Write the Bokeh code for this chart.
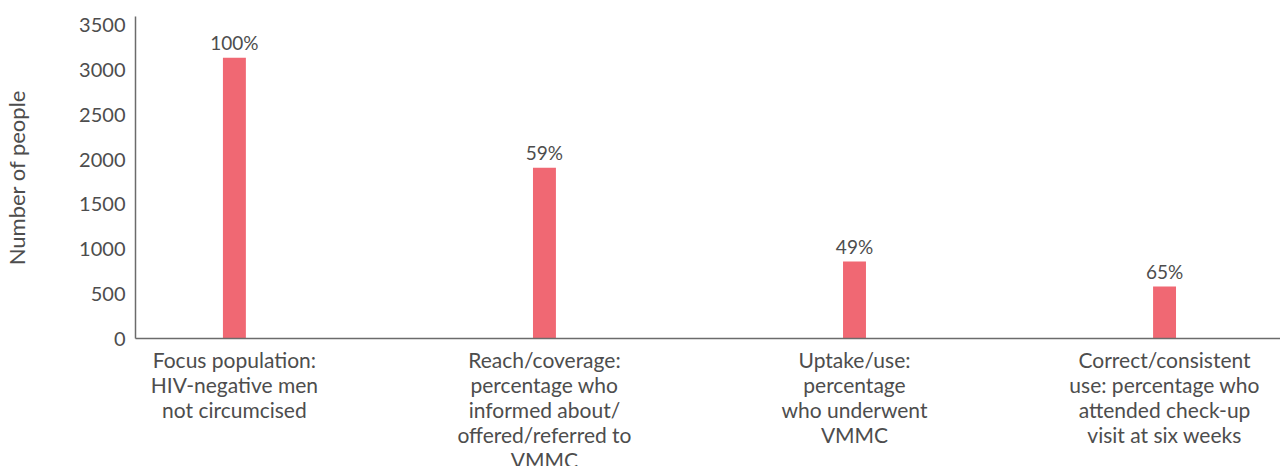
from bokeh.plotting import figure
from bokeh.models import ColumnDataSource, Range1d, FixedTicker
from bokeh.core.properties import value
from bokeh.embed import file_html
from bokeh.resources import INLINE

categories = [
    "Focus population:\nHIV-negative men\nnot circumcised",
    "Reach/coverage:\npercentage who\ninformed about/\noffered/referred to\nVMMC",
    "Uptake/use:\npercentage\nwho underwent\nVMMC",
    "Correct/consistent\nuse: percentage who\nattended check-up\nvisit at six weeks",
]
people = [3140, 1910, 860, 580]
pct_labels = ["100%", "59%", "49%", "65%"]
y_ticks = [0, 500, 1000, 1500, 2000, 2500, 3000, 3500]

FONT = "Lato"
TXT = "#4d4d4d"
AX = "#6b6b6b"

xs = list(range(len(categories)))
src = ColumnDataSource(dict(x=xs, y=people, lab=pct_labels))

p = figure(frame_width=1145, frame_height=322, output_backend="svg", toolbar_location=None,
           x_range=Range1d(-0.319, 3.374), y_range=Range1d(0, 3600),
           min_border_left=133, min_border_right=0, min_border_top=16, min_border_bottom=10)

p.vbar(x="x", top="y", width=0.074, bottom=0, source=src, color="#F06873", line_color=None)
p.text(x="x", y="y", text="lab", source=src, text_align="center", text_baseline="bottom",
       y_offset=-4, text_font=value(FONT), text_font_size="19px", text_color=TXT)

p.xgrid.visible = False
p.ygrid.visible = False
p.outline_line_color = None
p.background_fill_color = "white"
p.border_fill_color = "white"

xa = p.xaxis[0]
xa.ticker = FixedTicker(ticks=xs)
xa.major_label_overrides = {i: c for i, c in zip(xs, categories)}
xa.major_tick_in = 0
xa.major_tick_out = 0
xa.minor_tick_in = 0
xa.minor_tick_out = 0
xa.major_label_standoff = 8
xa.major_label_text_font = FONT
xa.major_label_text_font_size = "21px"
xa.major_label_text_color = TXT
xa.major_label_text_line_height = 1.0
xa.axis_line_color = AX
xa.axis_line_width = 1.5

ya = p.yaxis[0]
ya.ticker = FixedTicker(ticks=y_ticks)
ya.major_tick_in = 0
ya.major_tick_out = 0
ya.minor_tick_in = 0
ya.minor_tick_out = 0
ya.major_label_standoff = 10
ya.major_label_text_font = FONT
ya.major_label_text_font_size = "20px"
ya.major_label_text_color = TXT
ya.axis_line_color = AX
ya.axis_line_width = 1.5
ya.axis_label = "Number of people"
ya.axis_label_text_font = FONT
ya.axis_label_text_font_size = "22px"
ya.axis_label_text_font_style = "normal"
ya.axis_label_text_color = TXT
ya.axis_label_standoff = 46

open("out.html", "w").write(file_html(p, INLINE))
